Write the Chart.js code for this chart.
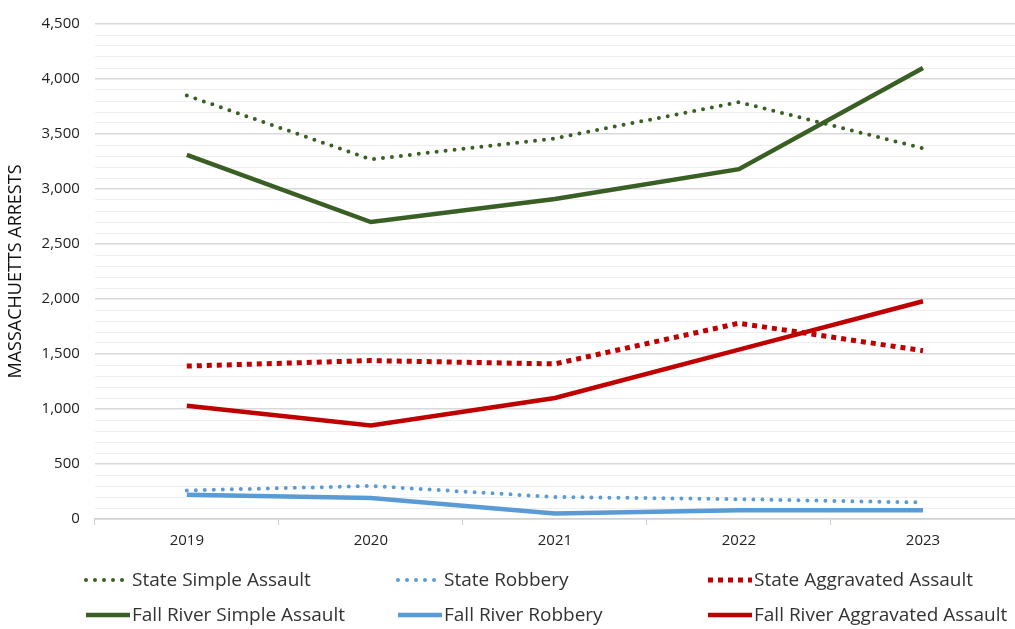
<!DOCTYPE html>
<html>
<head>
<meta charset="utf-8">
<script src="https://cdn.jsdelivr.net/npm/chart.js@4"></script>
<style>
  html, body { margin: 0; padding: 0; background: #fff; }
  #wrap { width: 1015px; height: 629px; }
</style>
</head>
<body>
<div id="wrap"><canvas id="arrests"></canvas></div>
<script>
const years = ["2019", "2020", "2021", "2022", "2023"];
const stateSimple = [3850, 3270, 3460, 3790, 3370];
const stateRobbery = [260, 300, 200, 180, 150];
const stateAggravated = [1390, 1440, 1410, 1780, 1530];
const frSimple = [3310, 2700, 2910, 3180, 4100];
const frRobbery = [220, 190, 50, 80, 80];
const frAggravated = [1030, 850, 1100, 1540, 1980];

const green = "#3a5f24";
const blue = "#5b9bd5";
const red = "#c00000";
const font = "'Open Sans', 'Noto Sans', sans-serif";

// legend drawn on canvas in a 3x2 grid like the original
const gridLegend = {
  id: "gridLegend",
  afterDraw(chart) {
    const ctx = chart.ctx;
    const cols = [84, 396, 706];
    const rows = [580, 615];
    chart.data.datasets.forEach((ds, i) => {
      const x = cols[i % 3];
      const y = rows[Math.floor(i / 3)];
      ctx.save();
      ctx.strokeStyle = ds.borderColor;
      ctx.lineWidth = ds.borderWidth;
      ctx.lineCap = ds.borderCapStyle || "butt";
      ctx.setLineDash(ds.borderDash || []);
      ctx.beginPath();
      ctx.moveTo(x + 2, y);
      ctx.lineTo(x + 46, y);
      ctx.stroke();
      ctx.setLineDash([]);
      ctx.fillStyle = "#333";
      ctx.font = "19px " + font;
      ctx.textBaseline = "middle";
      ctx.fillText(ds.label, x + 48, y + 1);
      ctx.restore();
    });
  },
};

const ctx = document.getElementById("arrests").getContext("2d");
const arrestsChart = new Chart(ctx, {
  type: "line",
  data: {
    labels: years,
    datasets: [
      {
        label: "State Simple Assault",
        data: stateSimple,
        borderColor: green,
        borderWidth: 4,
        borderDash: [0, 9],
        borderCapStyle: "round",
      },
      {
        label: "State Robbery",
        data: stateRobbery,
        borderColor: blue,
        borderWidth: 4,
        borderDash: [0, 9],
        borderCapStyle: "round",
      },
      {
        label: "State Aggravated Assault",
        data: stateAggravated,
        borderColor: red,
        borderWidth: 5,
        borderDash: [5, 5],
      },
      {
        label: "Fall River Simple Assault",
        data: frSimple,
        borderColor: green,
        borderWidth: 4.5,
      },
      {
        label: "Fall River Robbery",
        data: frRobbery,
        borderColor: blue,
        borderWidth: 4.5,
      },
      {
        label: "Fall River Aggravated Assault",
        data: frAggravated,
        borderColor: red,
        borderWidth: 4.5,
      },
    ],
  },
  options: {
    responsive: true,
    maintainAspectRatio: false,
    animation: false,
    layout: { padding: { top: 9, right: 0, bottom: 72, left: 0 } },
    elements: { point: { radius: 0 }, line: { tension: 0 } },
    plugins: { legend: { display: false }, tooltip: { enabled: false } },
    scales: {
      x: {
        offset: true,
        grid: {
          offset: true,
          drawOnChartArea: false,
          tickLength: 6,
          color: "#d0d0d0",
        },
        border: { color: "#d0d0d0", width: 1.5 },
        ticks: { color: "#222", font: { family: font, size: 15 }, padding: 7 },
      },
      y: {
        min: 0,
        max: 4500,
        ticks: {
          stepSize: 100,
          autoSkip: false,
          color: "#222",
          font: { family: font, size: 15 },
          padding: 15,
          callback: (v) => (v % 500 === 0 ? v.toLocaleString("en-US") : ""),
        },
        grid: {
          drawTicks: false,
          color: (c) => (c.tick && c.tick.value % 500 === 0 ? "#d9d9d9" : "#eeeeee"),
          lineWidth: (c) => (c.tick && c.tick.value % 500 === 0 ? 1.5 : 1),
        },
        border: { display: false },
        title: {
          display: true,
          text: "MASSACHUETTS ARRESTS",
          color: "#111",
          font: { family: font, size: 18 },
          padding: { top: 5, bottom: 0 },
        },
      },
    },
  },
  plugins: [gridLegend],
});
</script>
</body>
</html>
